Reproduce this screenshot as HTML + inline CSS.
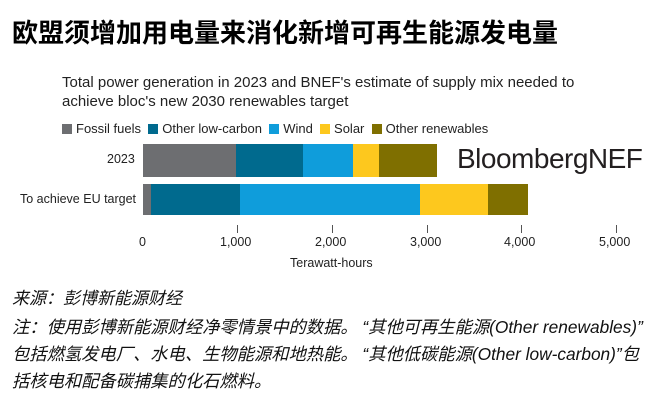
<!DOCTYPE html>
<html><head><meta charset="utf-8"><style>
body{margin:0;width:669px;height:401px;background:#fff;position:relative;overflow:hidden;font-family:"Liberation Sans","Noto Sans CJK SC",sans-serif;color:#222}
.a{position:absolute;white-space:nowrap}
.b{position:absolute;height:33px}
.sw{display:inline-block;width:10px;height:10px;margin-right:4px;vertical-align:-1px}
</style></head><body>
<div class="a" style="left:12px;top:13px;font-size:26px;font-weight:bold;color:#000">欧盟须增加用电量来消化新增可再生能源发电量</div>
<div class="a" style="left:62px;top:73px;font-size:15px;line-height:19px;color:#222">Total power generation in 2023 and BNEF's estimate of supply mix needed to<br>achieve bloc's new 2030 renewables target</div>
<div class="a" style="left:62px;top:121px;font-size:13px;color:#222">
<span class="sw" style="background:#6d6e71"></span>Fossil fuels&nbsp;&nbsp;<span class="sw" style="background:#006a8e"></span>Other low-carbon&nbsp;&nbsp;<span class="sw" style="background:#0f9ddb"></span>Wind&nbsp;&nbsp;<span class="sw" style="background:#fdc81e"></span>Solar&nbsp;&nbsp;<span class="sw" style="background:#7f6f00"></span>Other renewables</div>
<div class="a" style="left:107px;top:152px;font-size:12.5px">2023</div>
<div class="a" style="left:20px;top:192px;font-size:12.5px">To achieve EU target</div>
<div class="b" style="top:144px;left:143px;width:93px;background:#6d6e71"></div>
<div class="b" style="top:144px;left:236px;width:67px;background:#006a8e"></div>
<div class="b" style="top:144px;left:303px;width:50px;background:#0f9ddb"></div>
<div class="b" style="top:144px;left:353px;width:26px;background:#fdc81e"></div>
<div class="b" style="top:144px;left:379px;width:58px;background:#7f6f00"></div>
<div class="b" style="top:184px;height:31px;left:143px;width:8px;background:#6d6e71"></div>
<div class="b" style="top:184px;height:31px;left:151px;width:89px;background:#006a8e"></div>
<div class="b" style="top:184px;height:31px;left:240px;width:180px;background:#0f9ddb"></div>
<div class="b" style="top:184px;height:31px;left:420px;width:68px;background:#fdc81e"></div>
<div class="b" style="top:184px;height:31px;left:488px;width:40px;background:#7f6f00"></div>
<div class="a" style="left:457px;top:143px;font-size:28px;color:#231f20;letter-spacing:-0.5px">BloombergNEF</div>
<div class="a" style="left:237px;top:225px;width:1px;height:8px;background:#555"></div>
<div class="a" style="left:332px;top:225px;width:1px;height:8px;background:#555"></div>
<div class="a" style="left:427px;top:225px;width:1px;height:8px;background:#555"></div>
<div class="a" style="left:521px;top:225px;width:1px;height:8px;background:#555"></div>
<div class="a" style="left:616px;top:225px;width:1px;height:8px;background:#555"></div>
<div class="a" style="left:139px;top:235px;font-size:12.5px">0</div>
<div class="a" style="left:220px;top:235px;font-size:12.5px">1,000</div>
<div class="a" style="left:315px;top:235px;font-size:12.5px">2,000</div>
<div class="a" style="left:410px;top:235px;font-size:12.5px">3,000</div>
<div class="a" style="left:504px;top:235px;font-size:12.5px">4,000</div>
<div class="a" style="left:599px;top:235px;font-size:12.5px">5,000</div>
<div class="a" style="left:290px;top:256px;font-size:12.5px">Terawatt-hours</div>
<div class="a" style="left:12px;top:284px;font-size:17px;font-style:italic;color:#111">来源：彭博新能源财经</div>
<div class="a" style="left:12px;top:314px;font-size:17.3px;font-style:italic;line-height:27px;color:#111">注：使用彭博新能源财经净零情景中的数据。 “其他可再生能源(Other renewables)”<br>包括燃氢发电厂、水电、生物能源和地热能。 “其他低碳能源(Other low-carbon)”包<br>括核电和配备碳捕集的化石燃料。</div>
</body></html>
